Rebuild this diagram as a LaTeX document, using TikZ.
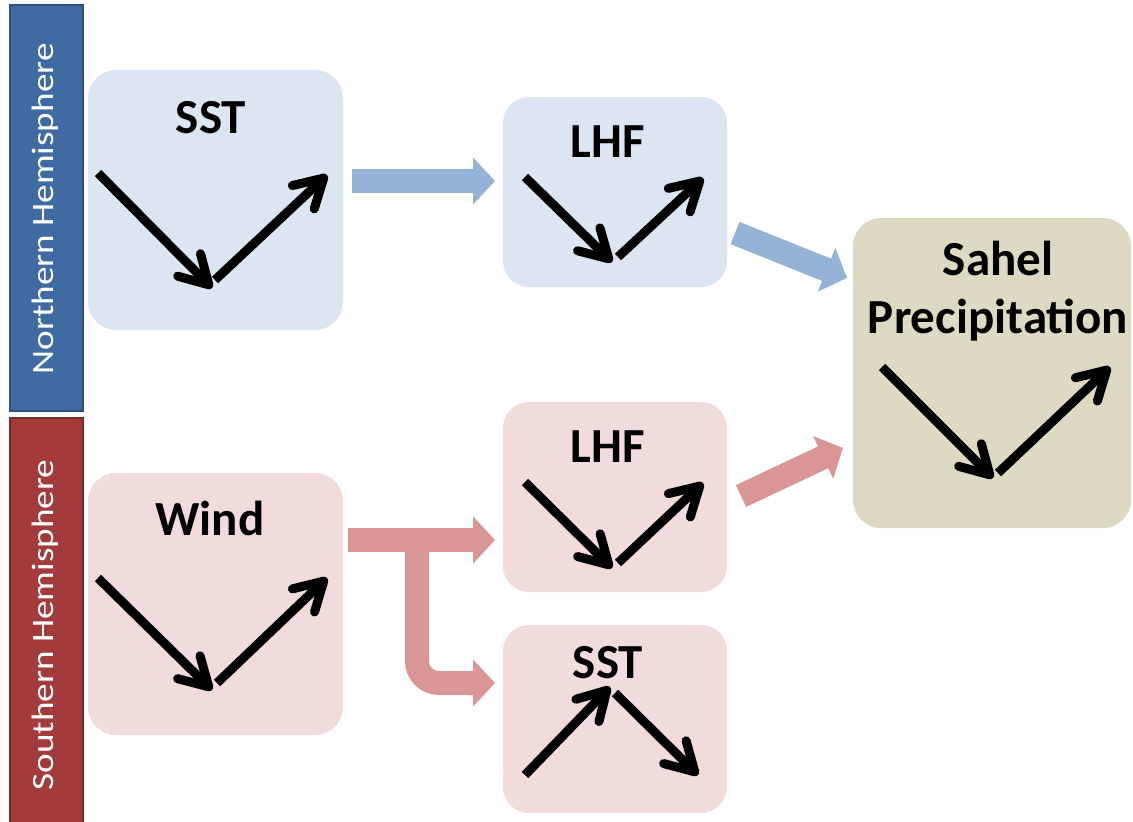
\documentclass[tikz,border=0pt]{standalone}
\usepackage{fontspec}
\setmainfont{Carlito}
\usetikzlibrary{arrows.meta}
\definecolor{nhfill}{HTML}{DCE6F2}
\definecolor{shfill}{HTML}{F2DCDB}
\definecolor{sahelfill}{HTML}{DDD9C3}
\definecolor{nhbarfill}{HTML}{406AA2}
\definecolor{nhbaredge}{HTML}{2E4F7C}
\definecolor{shbarfill}{HTML}{A33B3B}
\definecolor{shbaredge}{HTML}{7A2A2A}
\definecolor{bluearrow}{HTML}{95B3D7}
\definecolor{redarrow}{HTML}{D99694}
\tikzset{
  panel/.style={rectangle, rounded corners=28pt, inner sep=0pt, draw=none},
  sidebar/.style={rectangle, inner sep=0pt, line width=2pt},
  sidelabel/.style={rotate=90, text=white, inner sep=0pt},
  title/.style={anchor=base, inner sep=0pt, font=\bfseries\fontsize{49}{49}\selectfont},
  trend/.style={line width=9pt, -{Straight Barb[length=28pt, width=32pt, round]}},
  fat/.style={line width=24pt, -{Triangle[length=22pt, width=46pt]}},
}
\begin{document}
\begin{tikzpicture}[x=1pt,y=-1pt]
\useasboundingbox (0,0) rectangle (1133,822);
\fill[white] (0,0) rectangle (1133,822);

% side bars
\node[sidebar, fill=nhbarfill, draw=nhbaredge, minimum width=73pt, minimum height=406pt] (nhbar) at (46.5,208) {};
\node[sidebar, fill=shbarfill, draw=shbaredge, minimum width=73pt, minimum height=408pt] (shbar) at (46.5,622) {};
\node[sidelabel] (nhlabel) at (45,209) {\scalebox{1.2}[1]{\fontsize{31}{31}\selectfont Northern Hemisphere}};
\node[sidelabel] (shlabel) at (45,625) {\scalebox{1.2}[1]{\fontsize{31}{31}\selectfont Southern Hemisphere}};

% panels
\node[panel, fill=nhfill, minimum width=255pt, minimum height=260pt] (nhsst) at (215.5,200) {};
\node[panel, fill=nhfill, minimum width=224pt, minimum height=190pt, rounded corners=26pt] (nhlhf) at (615,192) {};
\node[panel, fill=sahelfill, minimum width=278pt, minimum height=310pt] (sahel) at (992,373) {};
\node[panel, fill=shfill, minimum width=255pt, minimum height=262pt] (wind) at (215.5,604) {};
\node[panel, fill=shfill, minimum width=224pt, minimum height=190pt, rounded corners=26pt] (shlhf) at (615,497) {};
\node[panel, fill=shfill, minimum width=224pt, minimum height=188pt, rounded corners=26pt] (shsst) at (615,719) {};

% titles
\node[title] (t1) at (211,133) {SST};
\node[title] (t2) at (608,157) {LHF};
\node[title] (t3) at (608,462) {LHF};
\node[title] (t4) at (608,678) {SST};
\node[title] (t5) at (210,535) {Wind};
\node[title] (t6) at (998,275) {Sahel};
\node[title] (t7) at (998,333) {Precipitation};

% trend arrows
\draw[trend] (98,173) -- (212,288);
\draw[trend] (215,280) -- (327,175);
\draw[trend] (525,177) -- (612,262);
\draw[trend] (618,257) -- (703,178);
\draw[trend] (525,482) -- (612,568);
\draw[trend] (618,563) -- (703,483);
\draw[trend] (525,775) -- (610,687);
\draw[trend] (615,693) -- (698,775);
\draw[trend] (98,578) -- (212,690);
\draw[trend] (217,683) -- (327,578);
\draw[trend] (882,367) -- (993,478);
\draw[trend] (998,473) -- (1110,367);

% connector end points
\coordinate (a1s) at (352,181);
\coordinate (a1e) at (495,181);
\coordinate (a2s) at (735,233);
\coordinate (a2e) at (847,278);
\coordinate (a3s) at (741,496);
\coordinate (a3e) at (843,448);
\coordinate (w0) at (348,540);
\coordinate (w1) at (495,540);
\coordinate (wj) at (417,540);
\coordinate (wc) at (417,683);
\coordinate (w2) at (495,683);

% fat connectors
\draw[fat, bluearrow] (a1s) -- (a1e);
\draw[fat, bluearrow] (a2s) -- (a2e);
\draw[fat, redarrow] (a3s) -- (a3e);
\draw[fat, redarrow] (w0) -- (w1);
\draw[fat, redarrow, rounded corners=22pt] (wj) -- (wc) -- (w2);
\end{tikzpicture}
\end{document}
